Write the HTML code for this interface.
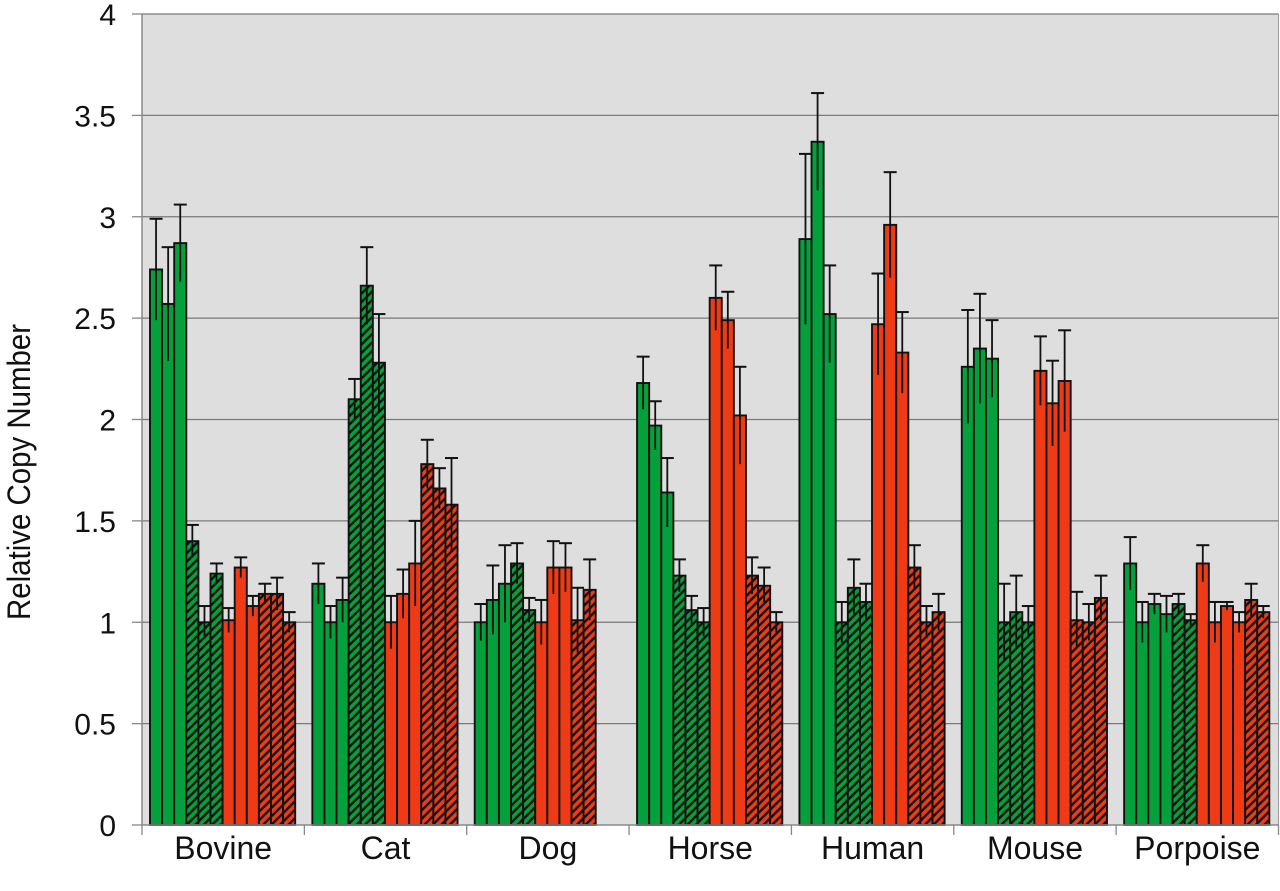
<!DOCTYPE html>
<html><head><meta charset="utf-8"><style>
html,body{margin:0;padding:0;background:#fff;}
svg{display:block;font-family:"Liberation Sans",Arial,sans-serif;}
</style></head><body>
<svg id="chart" width="1280" height="891" viewBox="0 0 1280 891">
<defs>
<pattern id="hatchG" patternUnits="userSpaceOnUse" width="6" height="6" patternTransform="rotate(45)">
<rect width="6" height="6" fill="#04a03c"/><rect x="0" y="0" width="2.4" height="6" fill="#111"/></pattern>
<pattern id="hatchR" patternUnits="userSpaceOnUse" width="6" height="6" patternTransform="rotate(45)">
<rect width="6" height="6" fill="#ee3b16"/><rect x="0" y="0" width="2.4" height="6" fill="#111"/></pattern>
</defs>
<rect x="142" y="14" width="1136" height="811" fill="#dedede"/>
<g id="grid"></g>
<g id="bars"></g>
<g id="axes"></g>
<text transform="translate(30,472) rotate(-90)" text-anchor="middle" font-size="32" textLength="296" lengthAdjust="spacingAndGlyphs" fill="#111">Relative Copy Number</text>
</svg>
<script>
const categories = ["Bovine","Cat","Dog","Horse","Human","Mouse","Porpoise"];
const barTypes = [
 ["G","G","G","GH","GH","GH","R","R","R","RH","RH","RH"],
 ["G","G","G","GH","GH","GH","R","R","R","RH","RH","RH"],
 ["G","G","G","GH","GH","R","R","R","RH","RH"],
 ["G","G","G","GH","GH","GH","R","R","R","RH","RH","RH"],
 ["G","G","G","GH","GH","GH","R","R","R","RH","RH","RH"],
 ["G","G","G","GH","GH","GH","R","R","R","RH","RH","RH"],
 ["G","G","G","G","GH","GH","R","R","R","R","RH","RH"]
];
const values = [
 [2.74,2.57,2.87,1.40,1.00,1.24,1.01,1.27,1.08,1.14,1.14,1.00],
 [1.19,1.00,1.11,2.10,2.66,2.28,1.00,1.14,1.29,1.78,1.66,1.58],
 [1.00,1.11,1.19,1.29,1.06,1.00,1.27,1.27,1.01,1.16],
 [2.18,1.97,1.64,1.23,1.06,1.00,2.60,2.49,2.02,1.23,1.18,1.00],
 [2.89,3.37,2.52,1.00,1.17,1.10,2.47,2.96,2.33,1.27,1.00,1.05],
 [2.26,2.35,2.30,1.00,1.05,1.00,2.24,2.08,2.19,1.01,1.00,1.12],
 [1.29,1.00,1.09,1.04,1.09,1.01,1.29,1.00,1.08,1.00,1.11,1.05]
];
const errors = [
 [0.25,0.28,0.19,0.08,0.08,0.05,0.06,0.05,0.05,0.05,0.08,0.05],
 [0.10,0.08,0.11,0.10,0.19,0.24,0.13,0.12,0.21,0.12,0.10,0.23],
 [0.09,0.17,0.19,0.10,0.06,0.11,0.13,0.12,0.16,0.15],
 [0.13,0.12,0.17,0.08,0.07,0.07,0.16,0.14,0.24,0.09,0.09,0.05],
 [0.42,0.24,0.24,0.10,0.14,0.09,0.25,0.26,0.20,0.11,0.08,0.09],
 [0.28,0.27,0.19,0.19,0.18,0.08,0.17,0.21,0.25,0.14,0.09,0.11],
 [0.13,0.10,0.05,0.09,0.05,0.03,0.09,0.10,0.02,0.05,0.08,0.03]
];
const yTicks = [0,0.5,1,1.5,2,2.5,3,3.5,4];
const yTickLabels = ["0","0.5","1","1.5","2","2.5","3","3.5","4"];

const NS="http://www.w3.org/2000/svg";
const X0=142, X1=1278.5, Y0=825, Y1=14, YMAX=4;
const groupW=(X1-X0)/categories.length, barW=12.1, offset=8;
function yScale(v){return Y0-(v/YMAX)*(Y0-Y1);}
function groupX(g){return X0+g*groupW;}
function barX(g,i){return groupX(g)+offset+i*barW;}
function mk(tag,attrs,parent){const e=document.createElementNS(NS,tag);for(const k in attrs)e.setAttribute(k,attrs[k]);parent.appendChild(e);return e;}
const grid=document.getElementById('grid'), bars=document.getElementById('bars'), axes=document.getElementById('axes');
const fills={G:"#04a03c",GH:"url(#hatchG)",R:"#ee3b16",RH:"url(#hatchR)"};

yTicks.forEach((t,i)=>{
  const y=yScale(t);
  if(t>0){const l=mk('line',{x1:X0,x2:X1,y1:y,y2:y,stroke:'#7a7a7a','stroke-width':1.3},grid);
  
  }
  const tk=mk('line',{x1:X0-10,x2:X0,y1:y,y2:y,stroke:'#888','stroke-width':1.3},axes);
  
  
  const tx=mk('text',{x:116,y:y+11,'text-anchor':'end','font-size':30,fill:'#111'},axes);
  tx.textContent=yTickLabels[i];
  
  
});
const rb=mk('line',{x1:X1,x2:X1,y1:Y1,y2:Y0,stroke:'#999','stroke-width':1},axes);


const ya=mk('line',{x1:X0,x2:X0,y1:Y1,y2:Y0,stroke:'#888','stroke-width':1.5},axes);


const xa=mk('line',{x1:X0,x2:X1,y1:Y0,y2:Y0,stroke:'#888','stroke-width':1.5},axes);



categories.forEach((c,g)=>{
  for(let k=0;k<=1;k++){ if(g>0&&k==0) continue;
    const xx=groupX(g+k);
    const t=mk('line',{x1:xx,x2:xx,y1:Y0,y2:Y0+10,stroke:'#888','stroke-width':1.3},axes);
    
    }
  const lab=mk('text',{x:groupX(g)+groupW/2,y:859,'text-anchor':'middle','font-size':32,fill:'#111'},axes);
  lab.textContent=c;
  
  
  values[g].forEach((v,i)=>{
    const x=barX(g,i), y=yScale(v);
    const r=mk('rect',{x:x,y:y,width:barW,height:Y0-y,fill:fills[barTypes[g][i]],stroke:'#111','stroke-width':1.9},bars);
    
    
    const e=errors[g][i], cx=x+barW/2, yt=yScale(v+e), yb=yScale(Math.max(0,v-e));
    const el=mk('line',{x1:cx,x2:cx,y1:yt,y2:yb,stroke:'#111','stroke-width':1.8},bars);
    
    
    const cap=mk('line',{x1:cx-6.5,x2:cx+6.5,y1:yt,y2:yt,stroke:'#111','stroke-width':2},bars);
    
    
  });
});
</script>
</body></html>
